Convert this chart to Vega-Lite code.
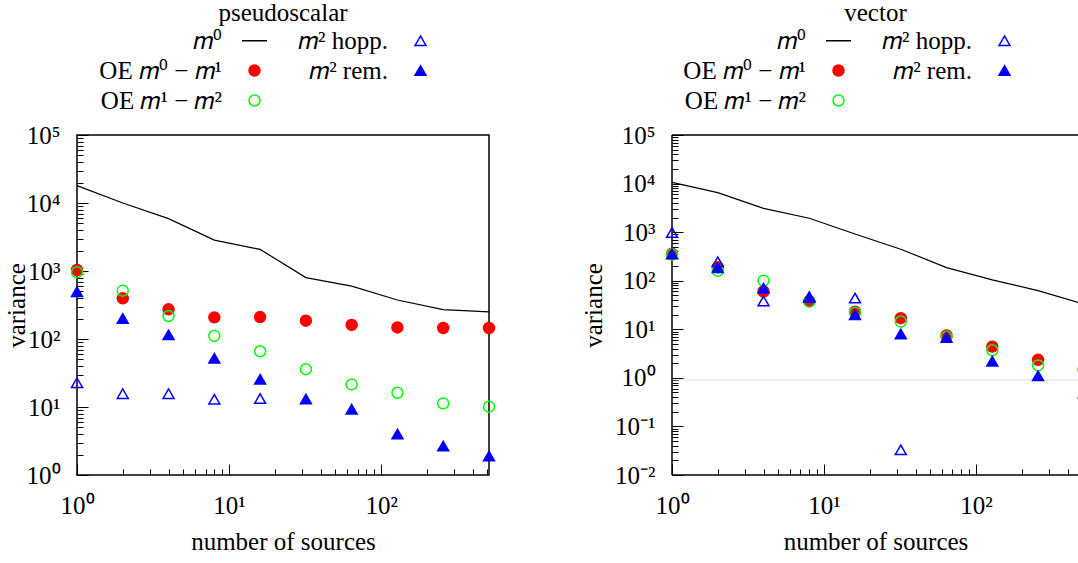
{
  "$schema": "https://vega.github.io/schema/vega-lite/v6.json",
  "padding": {"left": 3, "top": 0, "right": 0, "bottom": 0},
  "config": {
    "font": "Liberation Serif",
    "view": {"stroke": null},
    "axis": {
      "grid": false,
      "domain": false,
      "ticks": true,
      "tickColor": "#000000",
      "tickOpacity": 1,
      "labelColor": "black",
      "titleColor": "black",
      "labelFontSize": 25,
      "titleFontSize": 25,
      "titleFontWeight": "normal",
      "labelOverlap": false,
      "labelFlush": false
    },
    "legend": {
      "orient": "none",
      "columns": 2,
      "labelFontSize": 25,
      "labelColor": "black",
      "labelAlign": "right",
      "labelOffset": -45,
      "labelLimit": 0,
      "symbolSize": 120,
      "symbolStrokeWidth": 1.5,
      "columnPadding": 28,
      "rowPadding": 4
    },
    "title": {"fontSize": 25, "fontWeight": "normal", "color": "black", "frame": "group", "anchor": "middle", "offset": 2}
  },
  "data": {
    "values": [
      {"p": "ps", "s": "m0", "n": 1, "v": 18000},
      {"p": "ps", "s": "m0", "n": 2, "v": 10000},
      {"p": "ps", "s": "m0", "n": 4, "v": 5900},
      {"p": "ps", "s": "m0", "n": 8, "v": 2850},
      {"p": "ps", "s": "m0", "n": 16, "v": 2080},
      {"p": "ps", "s": "m0", "n": 32, "v": 800},
      {"p": "ps", "s": "m0", "n": 64, "v": 600},
      {"p": "ps", "s": "m0", "n": 128, "v": 375},
      {"p": "ps", "s": "m0", "n": 256, "v": 270},
      {"p": "ps", "s": "m0", "n": 512, "v": 250},
      {"p": "ps", "s": "oe01", "n": 1, "v": 1035},
      {"p": "ps", "s": "oe01", "n": 2, "v": 397},
      {"p": "ps", "s": "oe01", "n": 4, "v": 273},
      {"p": "ps", "s": "oe01", "n": 8, "v": 208},
      {"p": "ps", "s": "oe01", "n": 16, "v": 210},
      {"p": "ps", "s": "oe01", "n": 32, "v": 186},
      {"p": "ps", "s": "oe01", "n": 64, "v": 161},
      {"p": "ps", "s": "oe01", "n": 128, "v": 148},
      {"p": "ps", "s": "oe01", "n": 256, "v": 145},
      {"p": "ps", "s": "oe01", "n": 512, "v": 145},
      {"p": "ps", "s": "oe12", "n": 1, "v": 960},
      {"p": "ps", "s": "oe12", "n": 2, "v": 513},
      {"p": "ps", "s": "oe12", "n": 4, "v": 218},
      {"p": "ps", "s": "oe12", "n": 8, "v": 111},
      {"p": "ps", "s": "oe12", "n": 16, "v": 66},
      {"p": "ps", "s": "oe12", "n": 32, "v": 36},
      {"p": "ps", "s": "oe12", "n": 64, "v": 21.5},
      {"p": "ps", "s": "oe12", "n": 128, "v": 16.2},
      {"p": "ps", "s": "oe12", "n": 256, "v": 11.3},
      {"p": "ps", "s": "oe12", "n": 512, "v": 10.1},
      {"p": "ps", "s": "hopp", "n": 1, "v": 22.8},
      {"p": "ps", "s": "hopp", "n": 2, "v": 15.7},
      {"p": "ps", "s": "hopp", "n": 4, "v": 15.7},
      {"p": "ps", "s": "hopp", "n": 8, "v": 13},
      {"p": "ps", "s": "hopp", "n": 16, "v": 13.3},
      {"p": "ps", "s": "rem", "n": 1, "v": 497},
      {"p": "ps", "s": "rem", "n": 2, "v": 201},
      {"p": "ps", "s": "rem", "n": 4, "v": 115},
      {"p": "ps", "s": "rem", "n": 8, "v": 52},
      {"p": "ps", "s": "rem", "n": 16, "v": 25.5},
      {"p": "ps", "s": "rem", "n": 32, "v": 13.1},
      {"p": "ps", "s": "rem", "n": 64, "v": 9.3},
      {"p": "ps", "s": "rem", "n": 128, "v": 4.0},
      {"p": "ps", "s": "rem", "n": 256, "v": 2.67},
      {"p": "ps", "s": "rem", "n": 512, "v": 1.9},
      {"p": "vec", "s": "m0", "n": 1, "v": 10600},
      {"p": "vec", "s": "m0", "n": 2, "v": 6500},
      {"p": "vec", "s": "m0", "n": 4, "v": 3090},
      {"p": "vec", "s": "m0", "n": 8, "v": 1930},
      {"p": "vec", "s": "m0", "n": 16, "v": 918},
      {"p": "vec", "s": "m0", "n": 32, "v": 445},
      {"p": "vec", "s": "m0", "n": 64, "v": 186},
      {"p": "vec", "s": "m0", "n": 128, "v": 104},
      {"p": "vec", "s": "m0", "n": 256, "v": 62.5},
      {"p": "vec", "s": "m0", "n": 512, "v": 33},
      {"p": "vec", "s": "oe01", "n": 1, "v": 360},
      {"p": "vec", "s": "oe01", "n": 2, "v": 190},
      {"p": "vec", "s": "oe01", "n": 4, "v": 60},
      {"p": "vec", "s": "oe01", "n": 8, "v": 38},
      {"p": "vec", "s": "oe01", "n": 16, "v": 23},
      {"p": "vec", "s": "oe01", "n": 32, "v": 16.9},
      {"p": "vec", "s": "oe01", "n": 64, "v": 7.5},
      {"p": "vec", "s": "oe01", "n": 128, "v": 4.4},
      {"p": "vec", "s": "oe01", "n": 256, "v": 2.35},
      {"p": "vec", "s": "oe01", "n": 512, "v": 1.5},
      {"p": "vec", "s": "oe12", "n": 1, "v": 345},
      {"p": "vec", "s": "oe12", "n": 2, "v": 160},
      {"p": "vec", "s": "oe12", "n": 4, "v": 100},
      {"p": "vec", "s": "oe12", "n": 8, "v": 37},
      {"p": "vec", "s": "oe12", "n": 16, "v": 22},
      {"p": "vec", "s": "oe12", "n": 32, "v": 14.4},
      {"p": "vec", "s": "oe12", "n": 64, "v": 7.0},
      {"p": "vec", "s": "oe12", "n": 128, "v": 3.7},
      {"p": "vec", "s": "oe12", "n": 256, "v": 1.8},
      {"p": "vec", "s": "oe12", "n": 512, "v": 1.4},
      {"p": "vec", "s": "hopp", "n": 1, "v": 980},
      {"p": "vec", "s": "hopp", "n": 2, "v": 245},
      {"p": "vec", "s": "hopp", "n": 4, "v": 38},
      {"p": "vec", "s": "hopp", "n": 8, "v": 47},
      {"p": "vec", "s": "hopp", "n": 16, "v": 44},
      {"p": "vec", "s": "hopp", "n": 32, "v": 0.033},
      {"p": "vec", "s": "rem", "n": 1, "v": 355},
      {"p": "vec", "s": "rem", "n": 2, "v": 185},
      {"p": "vec", "s": "rem", "n": 4, "v": 70},
      {"p": "vec", "s": "rem", "n": 8, "v": 45},
      {"p": "vec", "s": "rem", "n": 16, "v": 20},
      {"p": "vec", "s": "rem", "n": 32, "v": 8.0},
      {"p": "vec", "s": "rem", "n": 64, "v": 6.8},
      {"p": "vec", "s": "rem", "n": 128, "v": 2.2},
      {"p": "vec", "s": "rem", "n": 256, "v": 1.1},
      {"p": "vec", "s": "rem", "n": 512, "v": 0.49}
    ]
  },
  "spacing": 82,
  "resolve": {
    "scale": {"x": "independent", "y": "independent", "color": "independent", "fill": "independent", "shape": "independent"},
    "legend": {"color": "independent", "fill": "independent", "shape": "independent"},
    "axis": {"x": "independent", "y": "independent"}
  },
  "hconcat": [
    {
      "width": 412,
      "height": 340,
      "title": {"text": "pseudoscalar"},
      "view": {"stroke": "black", "strokeWidth": 1.5},
      "transform": [{"filter": "datum.p == 'ps'"}],
      "resolve": {"axis": {"x": "independent", "y": "independent"}},
      "layer": [
        {
          "transform": [{"filter": "datum.s == 'm0'"}],
          "mark": {"type": "line", "strokeWidth": 1.2, "color": "black"},
          "encoding": {
            "x": {
              "field": "n", "type": "quantitative",
              "scale": {"type": "log", "domain": [1, 512], "nice": false},
              "axis": {"orient": "bottom", "values": [2,3,4,5,6,7,8,9,20,30,40,50,60,70,80,90,200,300,400,500], "labels": false, "title": null, "ticks": true, "tickColor": "#000000", "tickWidth": 1, "tickSize": 6, "offset": -6}
            },
            "y": {
              "field": "v", "type": "quantitative",
              "scale": {"type": "log", "domain": [1, 100000], "nice": false},
              "axis": {"orient": "left", "values": [2,3,4,5,6,7,8,9,20,30,40,50,60,70,80,90,200,300,400,500,600,700,800,900,2000,3000,4000,5000,6000,7000,8000,9000,20000,30000,40000,50000,60000,70000,80000,90000], "labels": false, "title": null, "ticks": true, "tickColor": "#000000", "tickWidth": 1, "tickSize": 6, "offset": -6}
            },
            "color": {
              "field": "s", "type": "nominal",
              "scale": {"domain": ["m0", "oe01", "oe12", "hopp", "rem"], "range": ["black", "#ff0000", "#00ff00", "#0000ff", "#0000ff"]},
              "legend": {
                "legendX": 165, "legendY": -107, "title": null,
                "labelExpr": "datum.value == 'm0' ? '𝑚⁰' : datum.value == 'hopp' ? '𝑚² hopp.' : datum.value == 'oe01' ? 'OE 𝑚⁰ − 𝑚¹' : datum.value == 'rem' ? '𝑚² rem.' : 'OE 𝑚¹ − 𝑚²'",
                "encode": {"symbols": {"update": {"size": {"signal": "datum.value == 'm0' ? 625 : 120"}}}}
              }
            }
          }
        },
        {
          "transform": [{"filter": "datum.s != 'm0'"}],
          "mark": {"type": "point", "filled": false, "strokeWidth": 1.5, "opacity": 1, "size": 120},
          "encoding": {
            "x": {
              "field": "n", "type": "quantitative", "title": "number of sources",
              "scale": {"type": "log", "domain": [1, 512], "nice": false},
              "axis": {"orient": "bottom", "values": [1, 10, 100], "labelExpr": "datum.value == 1 ? '10⁰' : datum.value == 10 ? '10¹' : '10²'", "ticks": true, "tickColor": "#000000", "tickWidth": 1, "tickSize": 11, "offset": -11, "labelPadding": 18, "titlePadding": 11}
            },
            "y": {
              "field": "v", "type": "quantitative", "title": "variance",
              "scale": {"type": "log", "domain": [1, 100000], "nice": false},
              "axis": {"orient": "left", "values": [1, 10, 100, 1000, 10000, 100000], "labelExpr": "datum.value == 1 ? '10⁰' : datum.value == 10 ? '10¹' : datum.value == 100 ? '10²' : datum.value == 1000 ? '10³' : datum.value == 10000 ? '10⁴' : '10⁵'", "ticks": true, "tickColor": "#000000", "tickWidth": 1, "tickSize": 11, "offset": -11, "labelPadding": 17, "titlePadding": -3}
            },
            "color": {
              "field": "s", "type": "nominal",
              "scale": {"domain": ["m0", "oe01", "oe12", "hopp", "rem"], "range": ["black", "#ff0000", "#00ff00", "#0000ff", "#0000ff"]},
              "legend": {
                "legendX": 165, "legendY": -107, "title": null,
                "labelExpr": "datum.value == 'm0' ? '𝑚⁰' : datum.value == 'hopp' ? '𝑚² hopp.' : datum.value == 'oe01' ? 'OE 𝑚⁰ − 𝑚¹' : datum.value == 'rem' ? '𝑚² rem.' : 'OE 𝑚¹ − 𝑚²'",
                "encode": {"symbols": {"update": {"size": {"signal": "datum.value == 'm0' ? 625 : 120"}}}}
              }
            },
            "fill": {
              "field": "s", "type": "nominal",
              "scale": {"domain": ["m0", "oe01", "oe12", "hopp", "rem"], "range": ["transparent", "#ff0000", "transparent", "transparent", "#0000ff"]}
            },
            "shape": {
              "field": "s", "type": "nominal",
              "scale": {"domain": ["m0", "oe01", "oe12", "hopp", "rem"], "range": ["stroke", "circle", "circle", "triangle-up", "triangle-up"]}
            }
          }
        }
      ]
    },
    {
      "width": 407,
      "height": 340,
      "title": {"text": "vector"},
      "transform": [{"filter": "datum.p == 'vec'"}],
      "resolve": {"axis": {"x": "independent", "y": "independent"}},
      "layer": [
        {
          "transform": [{"filter": "datum.s == 'm0' && datum.n == 1"}],
          "mark": {"type": "rule", "color": "#dddddd", "strokeWidth": 1},
          "encoding": {"y": {"datum": 0.91, "scale": {"type": "log", "domain": [0.01, 100000], "nice": false}, "axis": null}}
        },
        {
          "transform": [{"filter": "datum.s == 'm0' && datum.n == 1"}],
          "mark": {"type": "rule", "color": "black", "strokeWidth": 1.5},
          "encoding": {"y": {"datum": 100000, "scale": {"type": "log", "domain": [0.01, 100000], "nice": false}, "axis": null}}
        },
        {
          "transform": [{"filter": "datum.s == 'm0' && datum.n == 1"}],
          "mark": {"type": "rule", "color": "black", "strokeWidth": 1.5},
          "encoding": {"y": {"datum": 0.01, "scale": {"type": "log", "domain": [0.01, 100000], "nice": false}, "axis": null}}
        },
        {
          "transform": [{"filter": "datum.s == 'm0' && datum.n == 1"}],
          "mark": {"type": "rule", "color": "black", "strokeWidth": 1.5},
          "encoding": {"x": {"datum": 1, "scale": {"type": "log", "domain": [1, 476], "nice": false}, "axis": null}}
        },
        {
          "transform": [{"filter": "datum.s == 'm0'"}],
          "mark": {"type": "line", "strokeWidth": 1.2, "clip": true, "color": "black"},
          "encoding": {
            "x": {
              "field": "n", "type": "quantitative",
              "scale": {"type": "log", "domain": [1, 476], "nice": false},
              "axis": {"orient": "bottom", "values": [2,3,4,5,6,7,8,9,20,30,40,50,60,70,80,90,200,300,400], "labels": false, "title": null, "ticks": true, "tickColor": "#000000", "tickWidth": 1, "tickSize": 6, "offset": -6}
            },
            "y": {
              "field": "v", "type": "quantitative",
              "scale": {"type": "log", "domain": [0.01, 100000], "nice": false},
              "axis": {"orient": "left", "values": [0.02,0.03,0.04,0.05,0.06,0.07,0.08,0.09,0.2,0.3,0.4,0.5,0.6,0.7,0.8,0.9,2,3,4,5,6,7,8,9,20,30,40,50,60,70,80,90,200,300,400,500,600,700,800,900,2000,3000,4000,5000,6000,7000,8000,9000,20000,30000,40000,50000,60000,70000,80000,90000], "labels": false, "title": null, "ticks": true, "tickColor": "#000000", "tickWidth": 1, "tickSize": 6, "offset": -6}
            },
            "color": {
              "field": "s", "type": "nominal",
              "scale": {"domain": ["m0", "oe01", "oe12", "hopp", "rem"], "range": ["black", "#ff0000", "#00ff00", "#0000ff", "#0000ff"]},
              "legend": {
                "legendX": 154, "legendY": -107, "title": null,
                "labelExpr": "datum.value == 'm0' ? '𝑚⁰' : datum.value == 'hopp' ? '𝑚² hopp.' : datum.value == 'oe01' ? 'OE 𝑚⁰ − 𝑚¹' : datum.value == 'rem' ? '𝑚² rem.' : 'OE 𝑚¹ − 𝑚²'",
                "encode": {"symbols": {"update": {"size": {"signal": "datum.value == 'm0' ? 625 : 120"}}}}
              }
            }
          }
        },
        {
          "transform": [{"filter": "datum.s != 'm0' && datum.n < 500"}],
          "mark": {"type": "point", "filled": false, "strokeWidth": 1.5, "opacity": 1, "size": 120},
          "encoding": {
            "x": {
              "field": "n", "type": "quantitative", "title": "number of sources",
              "scale": {"type": "log", "domain": [1, 476], "nice": false},
              "axis": {"orient": "bottom", "values": [1, 10, 100], "labelExpr": "datum.value == 1 ? '10⁰' : datum.value == 10 ? '10¹' : '10²'", "ticks": true, "tickColor": "#000000", "tickWidth": 1, "tickSize": 11, "offset": -11, "labelPadding": 18, "titlePadding": 11}
            },
            "y": {
              "field": "v", "type": "quantitative", "title": "variance",
              "scale": {"type": "log", "domain": [0.01, 100000], "nice": false},
              "axis": {"orient": "left", "values": [0.01, 0.1, 1, 10, 100, 1000, 10000, 100000], "labelExpr": "datum.value == 0.01 ? '10⁻²' : datum.value == 0.1 ? '10⁻¹' : datum.value == 1 ? '10⁰' : datum.value == 10 ? '10¹' : datum.value == 100 ? '10²' : datum.value == 1000 ? '10³' : datum.value == 10000 ? '10⁴' : '10⁵'", "ticks": true, "tickColor": "#000000", "tickWidth": 1, "tickSize": 11, "offset": -11, "labelPadding": 17, "titlePadding": 8}
            },
            "color": {
              "field": "s", "type": "nominal",
              "scale": {"domain": ["m0", "oe01", "oe12", "hopp", "rem"], "range": ["black", "#ff0000", "#00ff00", "#0000ff", "#0000ff"]},
              "legend": {
                "legendX": 154, "legendY": -107, "title": null,
                "labelExpr": "datum.value == 'm0' ? '𝑚⁰' : datum.value == 'hopp' ? '𝑚² hopp.' : datum.value == 'oe01' ? 'OE 𝑚⁰ − 𝑚¹' : datum.value == 'rem' ? '𝑚² rem.' : 'OE 𝑚¹ − 𝑚²'",
                "encode": {"symbols": {"update": {"size": {"signal": "datum.value == 'm0' ? 625 : 120"}}}}
              }
            },
            "fill": {
              "field": "s", "type": "nominal",
              "scale": {"domain": ["m0", "oe01", "oe12", "hopp", "rem"], "range": ["transparent", "#ff0000", "transparent", "transparent", "#0000ff"]}
            },
            "shape": {
              "field": "s", "type": "nominal",
              "scale": {"domain": ["m0", "oe01", "oe12", "hopp", "rem"], "range": ["stroke", "circle", "circle", "triangle-up", "triangle-up"]}
            }
          }
        },
        {
          "transform": [{"filter": "datum.s != 'm0' && datum.n > 500"}],
          "mark": {"type": "point", "filled": false, "strokeWidth": 1.5, "opacity": 1, "size": 120, "clip": true},
          "encoding": {
            "x": {"field": "n", "type": "quantitative", "scale": {"type": "log", "domain": [1, 476], "nice": false}, "axis": null},
            "y": {"field": "v", "type": "quantitative", "scale": {"type": "log", "domain": [0.01, 100000], "nice": false}, "axis": null},
            "color": {
              "field": "s", "type": "nominal",
              "scale": {"domain": ["m0", "oe01", "oe12", "hopp", "rem"], "range": ["black", "#ff0000", "#00ff00", "#0000ff", "#0000ff"]}
            },
            "fill": {
              "field": "s", "type": "nominal",
              "scale": {"domain": ["m0", "oe01", "oe12", "hopp", "rem"], "range": ["transparent", "#ff0000", "transparent", "transparent", "#0000ff"]}
            },
            "shape": {
              "field": "s", "type": "nominal",
              "scale": {"domain": ["m0", "oe01", "oe12", "hopp", "rem"], "range": ["stroke", "circle", "circle", "triangle-up", "triangle-up"]}
            }
          }
        }
      ]
    }
  ]
}
